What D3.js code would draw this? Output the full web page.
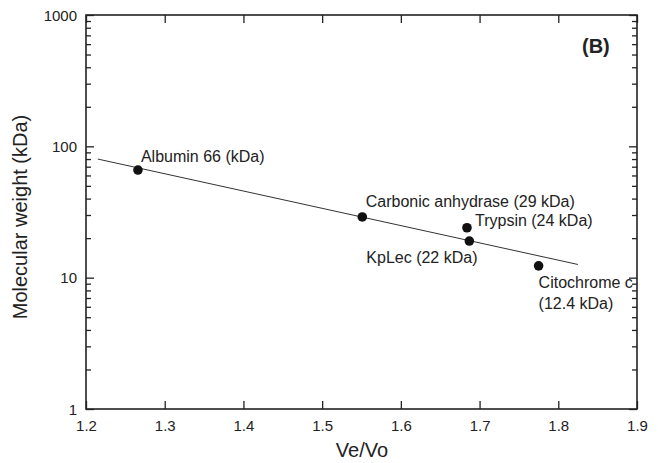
<!DOCTYPE html>
<html><head><meta charset="utf-8">
<script src="https://cdn.jsdelivr.net/npm/d3@7"></script>
<style>body{margin:0;background:#fff}text{font-family:"Liberation Sans",Arial,sans-serif;fill:#222}</style>
</head><body><svg id="c" width="658" height="463"></svg>
<script>
const proteins = ["Albumin 66 (kDa)","Carbonic anhydrase (29 kDa)","Trypsin (24 kDa)","KpLec (22 kDa)","Citochrome c"];
const veVo = [1.266, 1.551, 1.684, 1.687, 1.775];
const mw = [66, 29, 24, 19, 12.3];
const fitX = [1.215, 1.825];
const fitY = [80, 12.6];
const xTicks = [1.2,1.3,1.4,1.5,1.6,1.7,1.8,1.9];
const yTicks = [1,10,100,1000];

const svg = d3.select("#c");
const L=86, R=637, T=15, B=409;
const x = d3.scaleLinear().domain([1.2,1.9]).range([L,R]);
const y = d3.scaleLog().domain([1,1000]).range([B,T]);
const col="#222";

svg.append("rect").attr("x",L).attr("y",T).attr("width",R-L).attr("height",B-T)
  .attr("fill","none").attr("stroke",col).attr("stroke-width",1.6);

const minors=[];
[1,10,100].forEach(d=>{for(let k=2;k<=9;k++) minors.push(d*k);});
const gB = svg.append("g").attr("transform",`translate(0,${B})`)
  .call(d3.axisBottom(x).tickValues(xTicks).tickSize(-8).tickFormat(d3.format(".1f")));
gB.selectAll("text").attr("y",21.5).attr("dy",0);
const gT = svg.append("g").attr("transform",`translate(0,${T})`)
  .call(d3.axisTop(x).tickValues(xTicks).tickSize(-8).tickFormat(""));
const gL = svg.append("g").attr("transform",`translate(${L},0)`)
  .call(d3.axisLeft(y).tickValues(yTicks).tickSize(-8).tickFormat(d3.format("")));
gL.selectAll("text").attr("x",-9).attr("dy","0.35em");
const gLm = svg.append("g").attr("transform",`translate(${L},0)`)
  .call(d3.axisLeft(y).tickValues(minors).tickSize(-5).tickFormat(""));
const gR = svg.append("g").attr("transform",`translate(${R},0)`)
  .call(d3.axisRight(y).tickValues(yTicks).tickSize(-8).tickFormat(""));
const gRm = svg.append("g").attr("transform",`translate(${R},0)`)
  .call(d3.axisRight(y).tickValues(minors).tickSize(-5).tickFormat(""));
[gB,gT,gL,gLm,gR,gRm].forEach(g=>{
  g.select(".domain").remove();
  g.selectAll("line").attr("stroke",col).attr("stroke-width",1.3);
  g.selectAll("text").attr("font-size",15).attr("fill","#222").style("font-family","Liberation Sans, Arial, sans-serif");
});

svg.append("line").attr("x1",x(fitX[0])).attr("y1",y(fitY[0]))
  .attr("x2",x(fitX[1])).attr("y2",y(fitY[1])).attr("stroke","#333").attr("stroke-width",1);

svg.selectAll("circle.p").data(veVo).enter().append("circle")
  .attr("cx",d=>x(d)).attr("cy",(d,i)=>y(mw[i])).attr("r",4.8).attr("fill","#111");

const off=[[3,-8],[3.5,-10],[8,-2],[-103,22],[0,22]];
svg.selectAll("text.lab").data(proteins).enter().append("text")
  .attr("x",(d,i)=>x(veVo[i])+off[i][0]).attr("y",(d,i)=>y(mw[i])+off[i][1])
  .attr("font-size",16).text(d=>d);
svg.append("text").attr("x",x(veVo[4])).attr("y",y(mw[4])+43).attr("font-size",16).text("(12.4 kDa)");

svg.append("text").attr("x",582).attr("y",53).attr("font-size",20).attr("font-weight","bold").text("(B)");

svg.append("text").attr("x",362).attr("y",457).attr("text-anchor","middle").attr("font-size",20).text("Ve/Vo");
svg.append("text").attr("transform",`translate(27,217) rotate(-90)`).attr("text-anchor","middle")
  .attr("font-size",20).text("Molecular weight (kDa)");
</script></body></html>
